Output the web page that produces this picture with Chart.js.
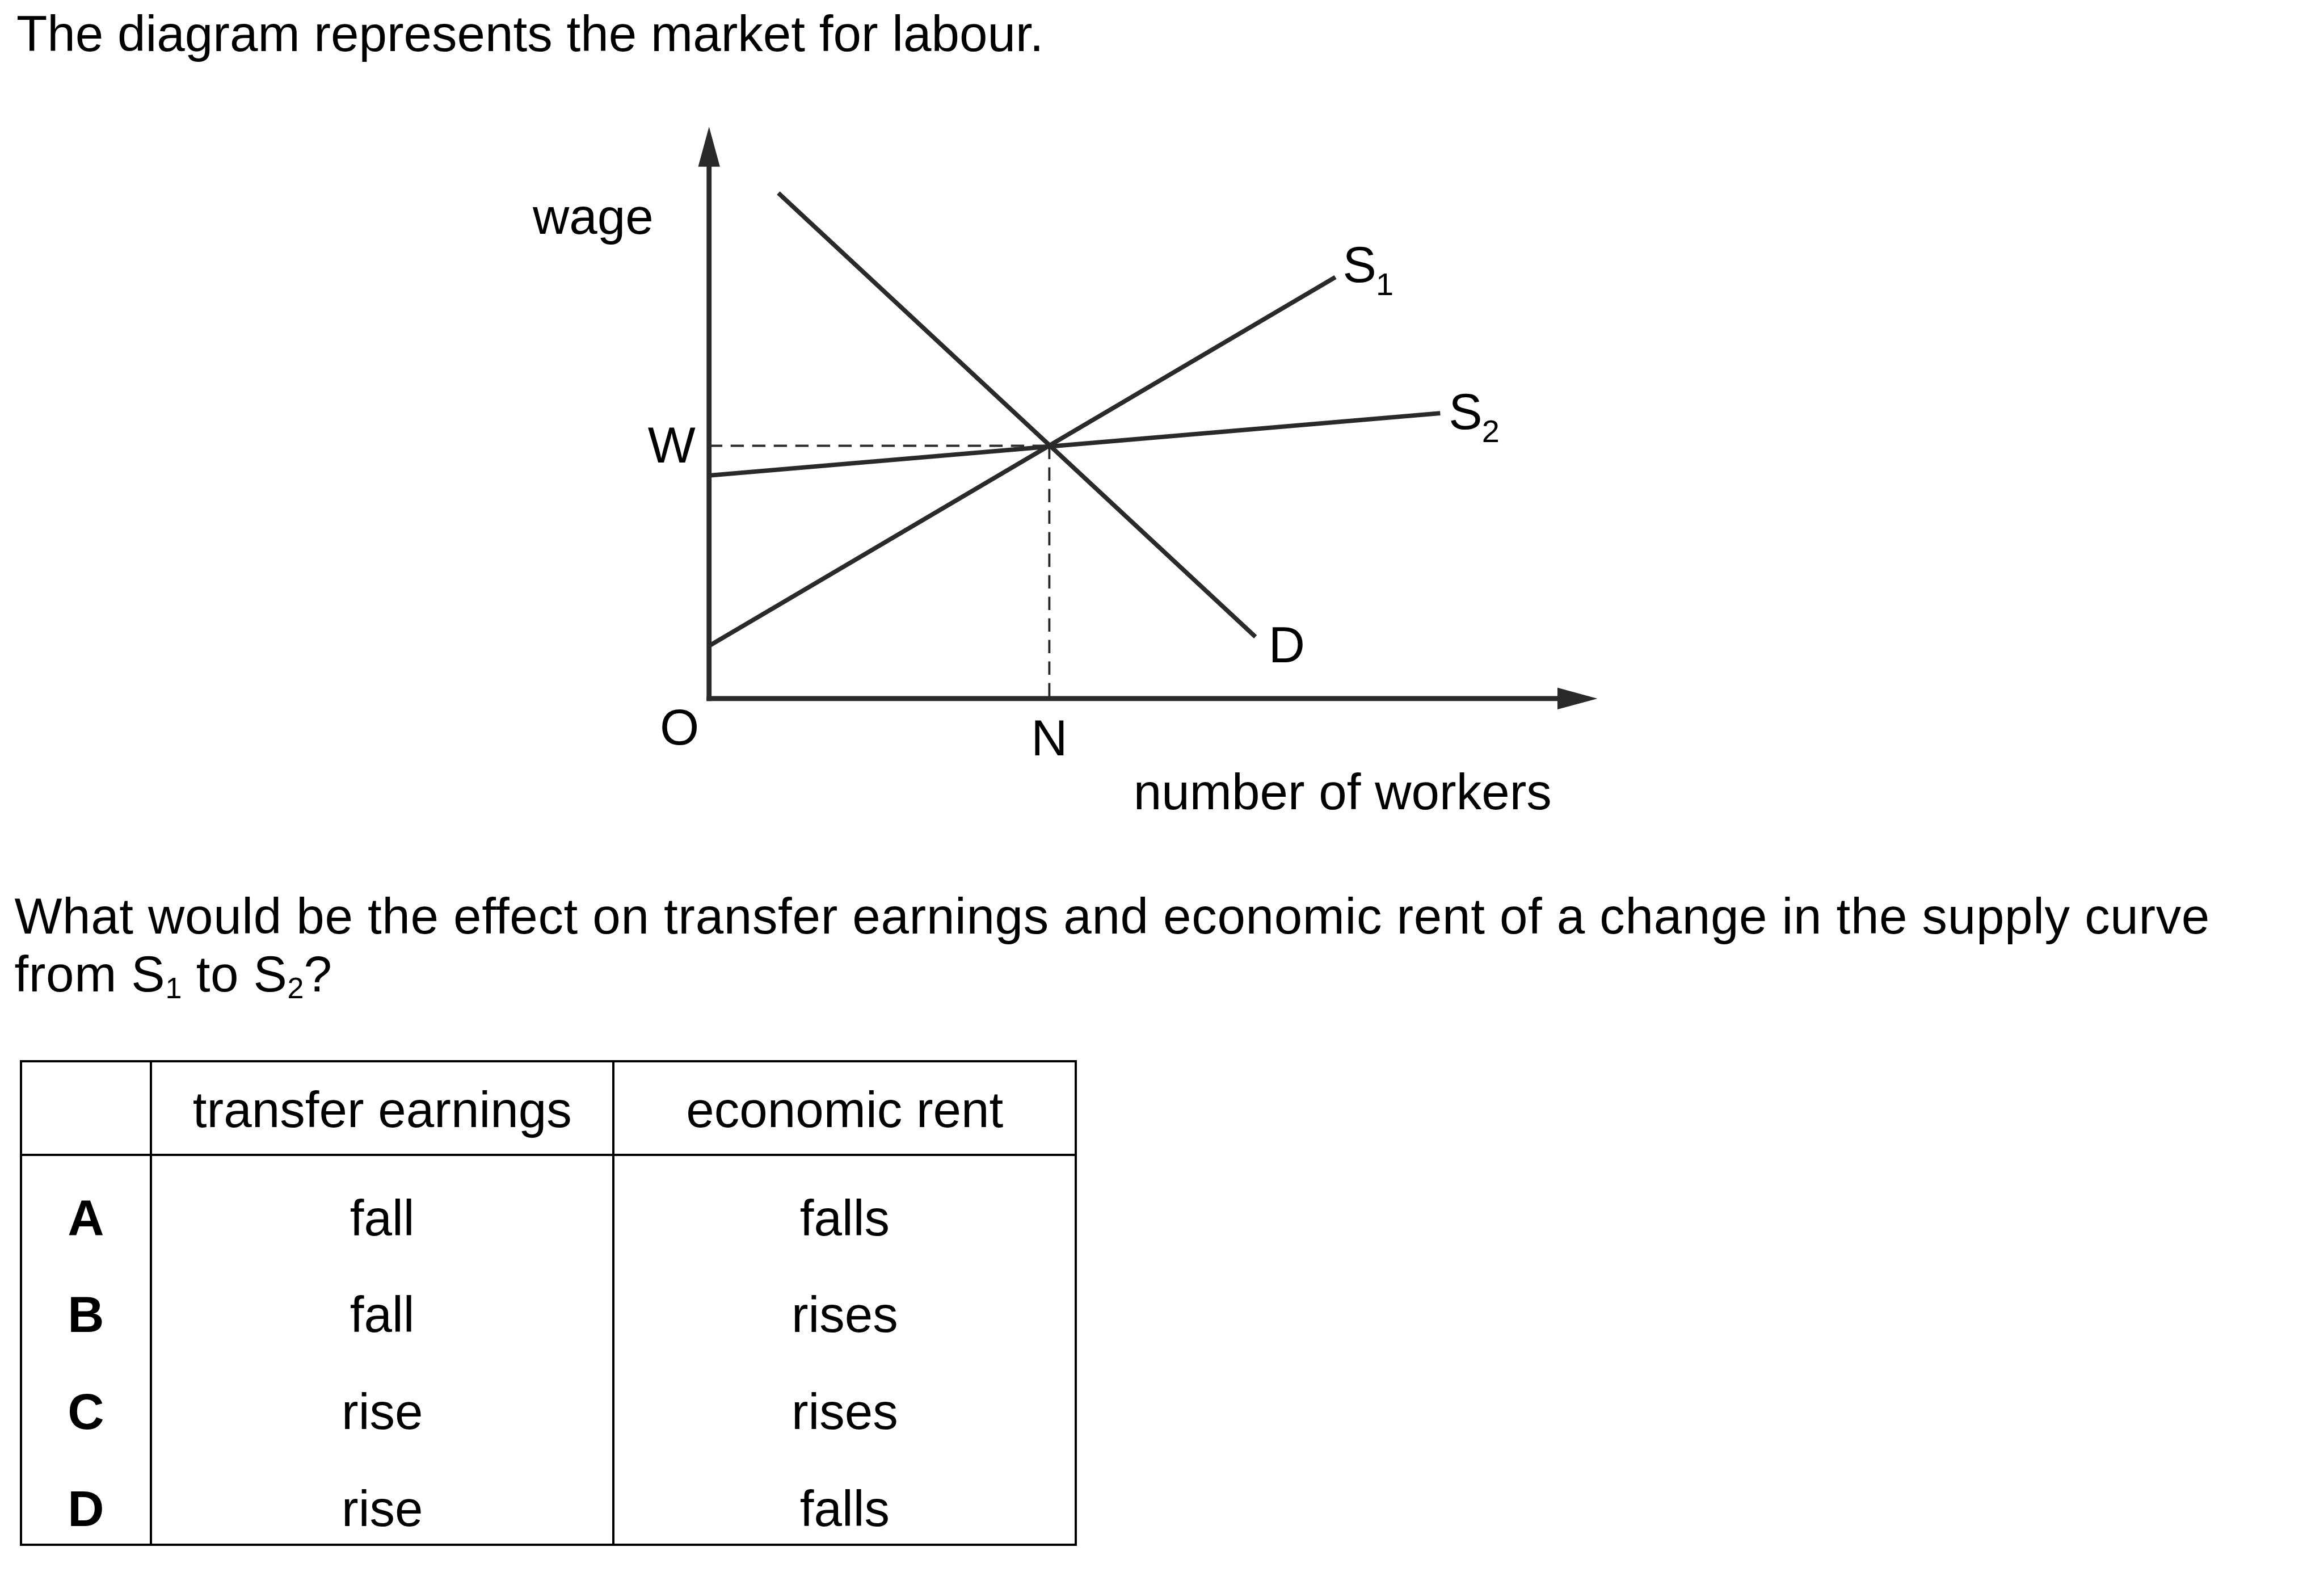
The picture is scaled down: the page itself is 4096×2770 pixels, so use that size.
<!DOCTYPE html>
<html><head><meta charset="utf-8">
<script src="https://cdn.jsdelivr.net/npm/chart.js@4.4.1/dist/chart.umd.min.js"></script>
<style>
html,body{margin:0;padding:0;background:#fff;}
body{width:4096px;height:2770px;position:relative;overflow:hidden;font-family:"Liberation Sans",Arial,Helvetica,sans-serif;color:#000;}
.t{position:absolute;font-size:89px;line-height:89px;white-space:nowrap;}
.q{position:absolute;font-size:89px;line-height:102.4px;white-space:nowrap;letter-spacing:0.65px;}
.q sub{font-size:52px;vertical-align:-12px;line-height:0;letter-spacing:0;}
.cell{position:absolute;font-size:89px;line-height:89px;white-space:nowrap;text-align:center;transform:translateX(-50%);}
.ln{position:absolute;background:#000;}
#wrap{position:absolute;left:0;top:0;width:4096px;height:2770px;}
</style></head>
<body>
<div id="wrap"><canvas id="c" width="4096" height="2770"></canvas></div>
<div class="t" style="left:29px;top:15.4px;">The diagram represents the market for labour.</div>
<div class="q" style="left:25.4px;top:1562.8px;">What would be the effect on transfer earnings and economic rent of a change in the supply curve<br>from S<sub>1</sub> to S<sub>2</sub>?</div>
<div id="table"></div>
<script>
// ---- data (x: number of workers, y: wage; axes run 0..10) ----
const axisXRange = [0, 10];
const axisYRange = [0, 10];
const demandX = [0.78, 6.15];
const demandY = [8.84, 1.08];
const supply1X = [0, 7.05];
const supply1Y = [0.92, 7.37];
const supply2X = [0, 8.23];
const supply2Y = [3.90, 4.99];
const wageW = 4.42;
const workersN = 3.83;

// ---- answer table ----
const tableHeaders = ['', 'transfer earnings', 'economic rent'];
const optionKeys = ['A', 'B', 'C', 'D'];
const transferEarnings = ['fall', 'fall', 'rise', 'rise'];
const economicRent = ['falls', 'rises', 'rises', 'falls'];

const LINE = '#2a2a2a';
const FONT = '"Liberation Sans", Arial, sans-serif';

function pts(xs, ys) { return xs.map((x, i) => ({ x: x, y: ys[i] })); }

const diagramPlugin = {
  id: 'diagram',
  beforeDatasetsDraw(chart) {
    const ctx = chart.ctx, sx = chart.scales.x, sy = chart.scales.y;
    const x0 = sx.getPixelForValue(axisXRange[0]), y0 = sy.getPixelForValue(axisYRange[0]);
    const xT = sx.getPixelForValue(axisXRange[1]), yT = sy.getPixelForValue(axisYRange[1]);
    const aw = 8.8, al = 70.5, ah = 19.2;
    ctx.save();
    ctx.fillStyle = LINE;
    // y axis
    ctx.fillRect(x0 - aw / 2, yT + al - 1, aw, (y0 + aw / 2) - (yT + al - 1));
    ctx.beginPath(); ctx.moveTo(x0, yT); ctx.lineTo(x0 + ah, yT + al); ctx.lineTo(x0 - ah, yT + al); ctx.closePath(); ctx.fill();
    // x axis
    ctx.fillRect(x0 - aw / 2, y0 - aw / 2, (xT - al + 1) - (x0 - aw / 2), aw);
    ctx.beginPath(); ctx.moveTo(xT, y0); ctx.lineTo(xT - al, y0 - ah); ctx.lineTo(xT - al, y0 + ah); ctx.closePath(); ctx.fill();
    ctx.restore();
  },
  afterDatasetsDraw(chart) {
    const ctx = chart.ctx, sx = chart.scales.x, sy = chart.scales.y;
    const x0 = sx.getPixelForValue(0), y0 = sy.getPixelForValue(0);
    ctx.save();
    ctx.fillStyle = '#000';
    ctx.textBaseline = 'alphabetic';
    ctx.font = '89px ' + FONT;
    // wage
    ctx.textAlign = 'right';
    ctx.fillText('wage', x0 - 98, 411.5);
    // W
    ctx.fillText('W', x0 - 24, sy.getPixelForValue(wageW) + 29);
    // O
    ctx.textAlign = 'center';
    ctx.fillText('O', x0 - 52, y0 + 81.5);
    // N
    ctx.fillText('N', sx.getPixelForValue(workersN), y0 + 100);
    // number of workers
    ctx.textAlign = 'left';
    ctx.fillText('number of workers', 1997.8, y0 + 195.5);
    // D
    ctx.fillText('D', sx.getPixelForValue(demandX[1]) + 23, sy.getPixelForValue(demandY[1]) + 45);
    // S1, S2 with subscripts
    function sLabel(sub, px, py, dx, dy) {
      ctx.font = '89px ' + FONT;
      const x = px + dx, y = py + dy;
      ctx.fillText('S', x, y);
      const w = ctx.measureText('S').width;
      ctx.font = '56px ' + FONT;
      ctx.fillText(sub, x + w - 1, y + 23);
    }
    sLabel('1', sx.getPixelForValue(supply1X[1]), sy.getPixelForValue(supply1Y[1]), 13, 9);
    sLabel('2', sx.getPixelForValue(supply2X[1]), sy.getPixelForValue(supply2Y[1]), 15, 28);
    ctx.restore();
  }
};

const solid = { showLine: true, borderColor: LINE, borderWidth: 7.8, pointRadius: 0, borderCapStyle: 'butt', clip: false, fill: false };
const dashed = { showLine: true, borderColor: LINE, borderWidth: 3.9, pointRadius: 0, borderDash: [23.4, 14.6], borderCapStyle: 'butt', clip: false, fill: false };

new Chart(document.getElementById('c'), {
  type: 'scatter',
  data: {
    datasets: [
      Object.assign({ label: 'W', data: [{ x: 0, y: wageW }, { x: workersN, y: wageW }] }, dashed),
      Object.assign({ label: 'N', data: [{ x: workersN, y: wageW }, { x: workersN, y: 0 }] }, dashed),
      Object.assign({ label: 'D', data: pts(demandX, demandY) }, solid),
      Object.assign({ label: 'S1', data: pts(supply1X, supply1Y) }, solid),
      Object.assign({ label: 'S2', data: pts(supply2X, supply2Y) }, solid)
    ]
  },
  options: {
    responsive: false,
    animation: false,
    devicePixelRatio: 1,
    events: [],
    layout: { padding: { left: 1249.7, right: 4096 - 2815.5, top: 223.3, bottom: 2770 - 1230.9 } },
    plugins: { legend: { display: false }, tooltip: { enabled: false }, title: { display: false } },
    scales: {
      x: { type: 'linear', min: axisXRange[0], max: axisXRange[1], display: false },
      y: { type: 'linear', min: axisYRange[0], max: axisYRange[1], display: false }
    }
  },
  plugins: [diagramPlugin]
});

// ---- table (HTML) ----
(function () {
  const tbl = document.getElementById('table');
  const L = 36.6, R = 1896.4, T = 1870, H = 2034.8, B = 2722.2, C1 = 266.2, C2 = 1081.3, bw = 4;
  function line(x, y, w, h) { const d = document.createElement('div'); d.className = 'ln'; d.style.cssText = `left:${x}px;top:${y}px;width:${w}px;height:${h}px`; tbl.appendChild(d); }
  line(L - bw / 2, T - bw / 2, R - L + bw, bw);
  line(L - bw / 2, B - bw / 2, R - L + bw, bw);
  line(L - bw / 2, H - bw / 2, R - L + bw, bw);
  line(L - bw / 2, T - bw / 2, bw, B - T + bw);
  line(R - bw / 2, T - bw / 2, bw, B - T + bw);
  line(C1 - bw / 2, T - bw / 2, bw, B - T + bw);
  line(C2 - bw / 2, T - bw / 2, bw, B - T + bw);
  const centers = [(L + C1) / 2, (C1 + C2) / 2, (C2 + R) / 2];
  const asc = 75.3;
  function cell(text, cx, base, bold) {
    const d = document.createElement('div'); d.className = 'cell'; d.textContent = text;
    d.style.left = cx + 'px'; d.style.top = (base - asc) + 'px';
    if (bold) d.style.fontWeight = 'bold';
    tbl.appendChild(d);
  }
  tableHeaders.forEach((h, i) => { if (h) cell(h, centers[i], 1986, false); });
  const firstBase = 2177, step = 170.6;
  optionKeys.forEach((k, r) => {
    const b = firstBase + r * step;
    cell(k, centers[0], b, true);
    cell(transferEarnings[r], centers[1], b, false);
    cell(economicRent[r], centers[2], b, false);
  });
})();
</script>
</body></html>
